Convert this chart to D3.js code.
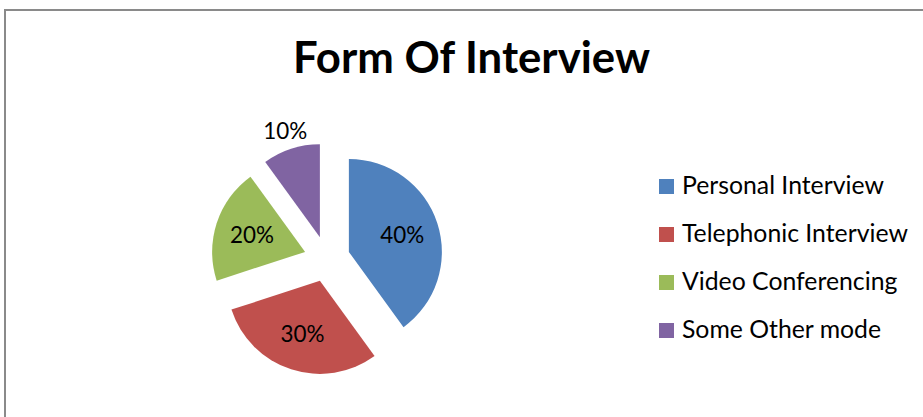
<!DOCTYPE html>
<html>
<head>
<meta charset="utf-8">
<script src="https://cdn.jsdelivr.net/npm/d3@7"></script>
<style>
  html, body { margin: 0; padding: 0; background: #fff; }
  svg { display: block; }
  text { font-family: Lato, "Open Sans", sans-serif; fill: #000; }
</style>
</head>
<body>
<svg id="chart" width="923" height="417"></svg>
<script>
const title = "Form Of Interview";
const categories = ["Personal Interview", "Telephonic Interview", "Video Conferencing", "Some Other mode"];
const values = [40, 30, 20, 10];
const colors = ["#4F81BD", "#C0504D", "#9BBB59", "#8064A2"];
const labels = ["40%", "30%", "20%", "10%"];
const labelOutside = [false, false, false, true];

const W = 923, H = 417;
const svg = d3.select("#chart");

// chart frame
svg.append("rect")
  .attr("x", 5).attr("y", 10)
  .attr("width", W + 20).attr("height", H + 20)
  .attr("fill", "#fff")
  .attr("stroke", "#8a8a8a").attr("stroke-width", 2);

// title
const t = svg.append("text")
  .attr("x", 471.5).attr("y", 73)
  .attr("text-anchor", "middle")
  .attr("font-weight", "bold")
  .attr("font-size", 100)
  .text(title);
const tw = t.node().getComputedTextLength();
t.attr("font-size", 100 * 357 / tw);

// pie
const cx = 327, cy = 259, r = 93, explode = 23;
const pie = d3.pie().sort(null).value(d => d).startAngle(0).endAngle(2 * Math.PI);
const arcs = pie(values);
const arc = d3.arc().innerRadius(0).outerRadius(r);
const inLabel = d3.arc().innerRadius(56).outerRadius(56);
const outLabel = d3.arc().innerRadius(112).outerRadius(112);

const g = svg.append("g").attr("transform", `translate(${cx},${cy})`);
const slices = g.selectAll("g.slice").data(arcs).enter().append("g")
  .attr("class", "slice")
  .attr("transform", d => {
    const m = (d.startAngle + d.endAngle) / 2;
    return `translate(${explode * Math.sin(m)},${-explode * Math.cos(m)})`;
  });
slices.append("path")
  .attr("d", arc)
  .attr("fill", (d, i) => colors[i]);
const pl = slices.append("text")
  .attr("transform", (d, i) => `translate(${(labelOutside[i] ? outLabel : inLabel).centroid(d)})`)
  .attr("text-anchor", "middle")
  .attr("font-size", 100)
  .text((d, i) => labels[i]);
const plw = pl.nodes()[0].getComputedTextLength();
const plSize = 100 * 44 / plw;
pl.attr("font-size", plSize).attr("dy", plSize * 0.36);

// legend
const lg = svg.append("g");
const ly = d3.scalePoint().domain(categories).range([186.5, 330.5]);
const items = lg.selectAll("g").data(categories).enter().append("g")
  .attr("transform", d => `translate(659,${ly(d)})`);
items.append("rect")
  .attr("x", 0).attr("y", -7.5)
  .attr("width", 15).attr("height", 15)
  .attr("fill", (d, i) => colors[i]);
const lt = items.append("text")
  .attr("x", 23).attr("y", 7.5)
  .attr("font-size", 100)
  .text(d => d);
const lw = lt.nodes()[0].getComputedTextLength();
lt.attr("font-size", 100 * 202 / lw);
</script>
</body>
</html>
